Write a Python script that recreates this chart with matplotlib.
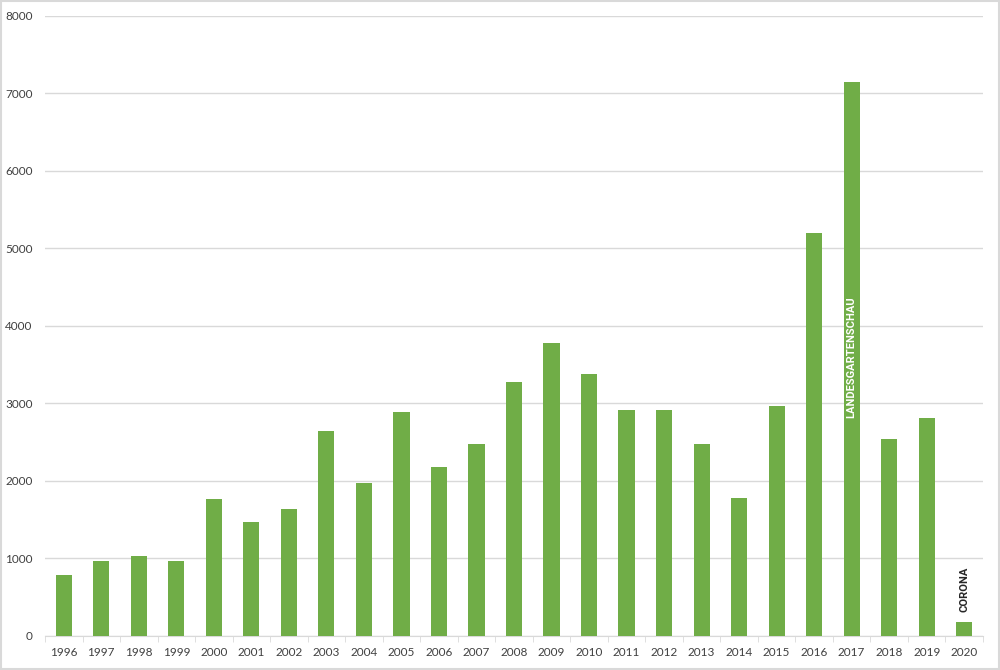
import numpy as np
import matplotlib.pyplot as plt
from matplotlib.patches import Rectangle

years = [str(y) for y in range(1996, 2021)]
values = [778, 970, 1026, 970, 1770, 1470, 1630, 2640, 1975, 2885,
          2172, 2472, 3277, 3774, 3378, 2913, 2913, 2472, 1772, 2965,
          5190, 7150, 2535, 2806, 172]
yticks = [0, 1000, 2000, 3000, 4000, 5000, 6000, 7000, 8000]

fig = plt.figure(figsize=(10, 6.7), dpi=100)
ax = fig.add_axes([0.045, 0.0512, 0.938, 0.9254])

x = np.arange(len(years))
ax.bar(x, values, width=0.43, color='#70AD47', zorder=3)

ax.set_xlim(-0.5, len(years) - 0.5)
ax.set_ylim(0, 8000)
ax.set_yticks(yticks)
ax.set_xticks(x)
ax.set_xticklabels(years)
ax.set_xticks(np.arange(len(years) + 1) - 0.5, minor=True)

ax.grid(axis='y', color='#d9d9d9', linewidth=1, zorder=0)
for s in ['top', 'right', 'left']:
    ax.spines[s].set_visible(False)
ax.spines['bottom'].set_color('#d9d9d9')
ax.tick_params(axis='y', length=0, pad=9, labelsize=8.5, labelcolor='#404040')
ax.tick_params(axis='x', which='major', length=0, pad=8, labelsize=8.5, labelcolor='#404040')
ax.tick_params(axis='x', which='minor', length=4, color='#d9d9d9')
for lab in ax.get_xticklabels() + ax.get_yticklabels():
    lab.set_family('Lato')

# annotations
i17 = years.index('2017')
ax.text(i17, 2810, 'LANDESGARTENSCHAU', rotation=90, color='white', fontsize=8,
        fontweight='bold', family='Roboto', ha='center', va='bottom', zorder=4)
i20 = years.index('2020')
ax.text(i20, 300, 'CORONA', rotation=90, color='#262626', fontsize=8,
        fontweight='bold', family='Roboto', ha='center', va='bottom', zorder=4)

fig.patches.append(Rectangle((0.001, 0.0015), 0.998, 0.997, transform=fig.transFigure,
                             fill=False, edgecolor='#d9d9d9', linewidth=1.5))

plt.savefig('out.png', dpi=100)
